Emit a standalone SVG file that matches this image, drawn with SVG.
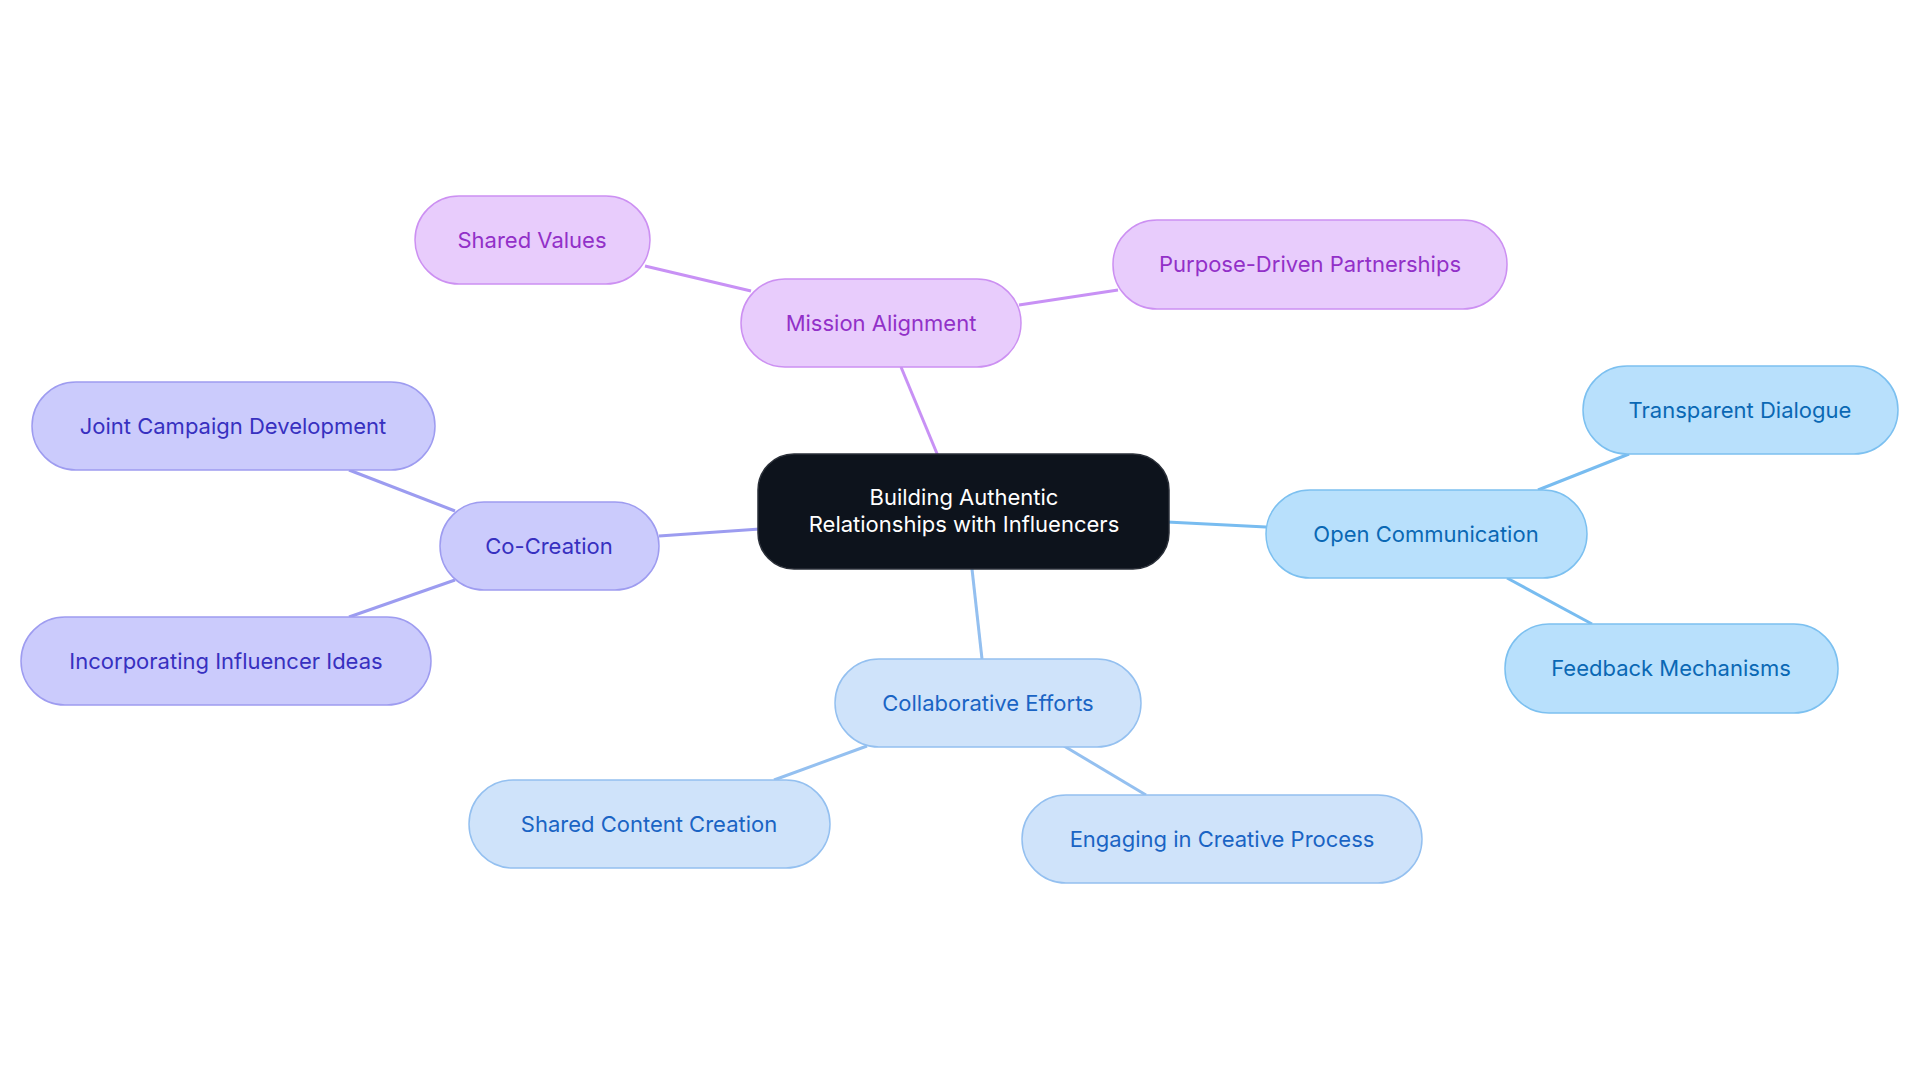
<svg xmlns="http://www.w3.org/2000/svg" width="1920" height="1083" viewBox="0 0 1920 1083">
<style>
text{font-family:Inter,"Noto Sans",sans-serif;font-size:22px;text-anchor:middle;dominant-baseline:central}
.m rect{fill:#e8ccfc;stroke:#cc90f2}.m text{fill:#9230c8}
.c rect{fill:#cbcbfc;stroke:#9e9cf0}.c text{fill:#3730c0}
.o rect{fill:#b8e0fc;stroke:#7cc0f0}.o text{fill:#0a68b4}
.b rect{fill:#cfe3fa;stroke:#94c0f0}.b text{fill:#1a64c4}
rect{stroke-width:1.5}
.e line{stroke-width:3}
</style>
<rect width="1920" height="1083" fill="#fff"/>
<g class="e">
<line x1="938" y1="456" x2="901" y2="367" stroke="#c891f5"/>
<line x1="751" y1="291" x2="645" y2="266" stroke="#c891f5"/>
<line x1="1019" y1="305" x2="1118" y2="290" stroke="#c891f5"/>
<line x1="760" y1="529" x2="659" y2="536" stroke="#9c9cf0"/>
<line x1="455" y1="511" x2="349" y2="470" stroke="#9c9cf0"/>
<line x1="455" y1="580" x2="349" y2="617" stroke="#9c9cf0"/>
<line x1="1167" y1="522" x2="1266" y2="527" stroke="#78bcf0"/>
<line x1="1538" y1="490" x2="1629" y2="454" stroke="#78bcf0"/>
<line x1="1507" y1="578" x2="1592" y2="624" stroke="#78bcf0"/>
<line x1="972" y1="569" x2="982" y2="659" stroke="#94c0f0"/>
<line x1="867" y1="746" x2="774" y2="780" stroke="#94c0f0"/>
<line x1="1064" y1="746" x2="1146" y2="795" stroke="#94c0f0"/>
</g>
<g id="center"><rect x="758" y="454" width="411" height="115" rx="36" fill="#0d131c" stroke="#2a2f38"/><text x="964" y="497" fill="#fff">Building Authentic</text><text x="964" y="524" fill="#fff">Relationships with Influencers</text></g>
<g id="mission" class="m"><rect x="741" y="279" width="280" height="88" rx="44"/><text x="881" y="323">Mission Alignment</text></g>
<g id="sharedvalues" class="m"><rect x="415" y="196" width="235" height="88" rx="44"/><text x="532" y="240">Shared Values</text></g>
<g id="purpose" class="m"><rect x="1113" y="220" width="394" height="89" rx="44"/><text x="1310" y="264">Purpose-Driven Partnerships</text></g>
<g id="cocreation" class="c"><rect x="440" y="502" width="219" height="88" rx="44"/><text x="549" y="546">Co-Creation</text></g>
<g id="joint" class="c"><rect x="32" y="382" width="403" height="88" rx="44"/><text x="233" y="426">Joint Campaign Development</text></g>
<g id="incorp" class="c"><rect x="21" y="617" width="410" height="88" rx="44"/><text x="226" y="661">Incorporating Influencer Ideas</text></g>
<g id="open" class="o"><rect x="1266" y="490" width="321" height="88" rx="44"/><text x="1426" y="534">Open Communication</text></g>
<g id="transparent" class="o"><rect x="1583" y="366" width="315" height="88" rx="44"/><text x="1740" y="410">Transparent Dialogue</text></g>
<g id="feedback" class="o"><rect x="1505" y="624" width="333" height="89" rx="44"/><text x="1671" y="668">Feedback Mechanisms</text></g>
<g id="collab" class="b"><rect x="835" y="659" width="306" height="88" rx="44"/><text x="988" y="703">Collaborative Efforts</text></g>
<g id="sharedcontent" class="b"><rect x="469" y="780" width="361" height="88" rx="44"/><text x="649" y="824">Shared Content Creation</text></g>
<g id="engaging" class="b"><rect x="1022" y="795" width="400" height="88" rx="44"/><text x="1222" y="839">Engaging in Creative Process</text></g>
</svg>
